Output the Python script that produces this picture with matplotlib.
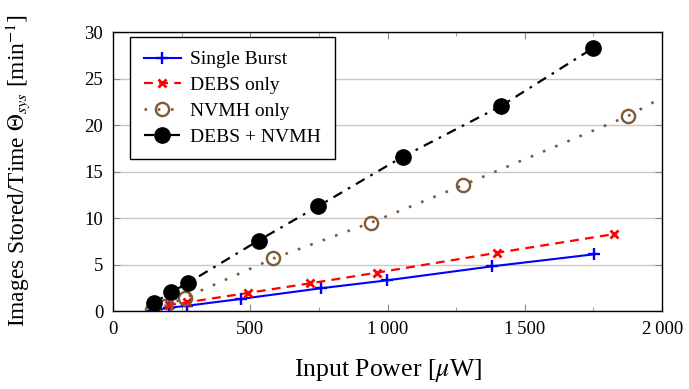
import numpy as np
import matplotlib
matplotlib.use("Agg")
import matplotlib.pyplot as plt
from matplotlib.ticker import FuncFormatter, MultipleLocator

# data
single_x = [141, 205, 271, 466, 758, 999, 1379, 1752]
single_y = [0.05, 0.35, 0.57, 1.3, 2.45, 3.3, 4.8, 6.1]

debs_x = [145, 205, 271, 493, 718, 960, 1400, 1826]
debs_y = [0.1, 0.65, 0.94, 1.95, 2.98, 4.12, 6.27, 8.28]

nvmh_x = [141, 189, 262, 584, 939, 1276, 1874, 2250]
nvmh_y = [0.1, 0.54, 1.43, 5.65, 9.5, 13.55, 20.95, 26.95]

both_x = [150, 211, 274, 530, 746, 1056, 1413, 1747]
both_y = [0.9, 2.0, 3.04, 7.58, 11.25, 16.6, 22.05, 28.25]

labels = ["Single Burst", "DEBS only", "NVMH only", "DEBS + NVMH"]

plt.rcParams['font.family'] = ['Liberation Serif', 'DejaVu Serif']
plt.rcParams['mathtext.fontset'] = 'stix'

fig = plt.figure(figsize=(6.89, 3.89), dpi=100)
ax = fig.add_axes([0.164, 0.2005, 0.797, 0.717])

ax.plot(single_x, single_y, color='blue', ls='-', lw=1.5, marker='+',
        ms=9, mew=1.7, label=labels[0])
ax.plot(debs_x, debs_y, color='red', ls=(0, (4, 2.8)), lw=1.6, marker='x',
        ms=6, mew=2.0, label=labels[1])
ax.plot(nvmh_x, nvmh_y, color='#7f5a35', ls=(0, (1, 4)), lw=1.9, marker='o',
        ms=9.5, mew=1.7, mfc='none', label=labels[2])
ax.plot(both_x, both_y, color='black', ls=(0, (4.5, 3, 1.2, 3)), lw=1.6, marker='o',
        ms=11, label=labels[3])

ax.set_xlim(0, 2000)
ax.set_ylim(0, 30)
ax.xaxis.set_major_locator(MultipleLocator(500))
ax.xaxis.set_minor_locator(MultipleLocator(250))
ax.yaxis.set_major_locator(MultipleLocator(5))
ax.xaxis.set_major_formatter(FuncFormatter(
    lambda v, p: f"{int(v):,}".replace(",", "\u2009")))

ax.grid(axis='y', color='#c8c8c8', lw=1.0)
ax.set_axisbelow(True)
ax.tick_params(which='both', direction='in', top=True, right=True,
               color='0.55', labelsize=13.5)
ax.tick_params(which='major', length=5, pad=7)
ax.tick_params(which='minor', length=3)
for s in ax.spines.values():
    s.set_linewidth(1.0)

ax.set_xlabel(r"Input Power [$\mu$W]", fontsize=18.5)
ax.set_ylabel(r"Images Stored/Time $\Theta_{sys}$ [min$^{-1}$]", fontsize=16.8)
ax.xaxis.set_label_coords(0.5, -0.165)
ax.yaxis.set_label_coords(-0.147, 0.505)

leg = ax.legend(loc='upper left', bbox_to_anchor=(0.031, 0.982), fontsize=14,
                fancybox=False, edgecolor='black', framealpha=1,
                handlelength=1.9, handletextpad=0.5, borderpad=0.7,
                labelspacing=0.42, borderaxespad=0)
leg.get_frame().set_linewidth(1.0)

fig.savefig("out.png", dpi=100)
